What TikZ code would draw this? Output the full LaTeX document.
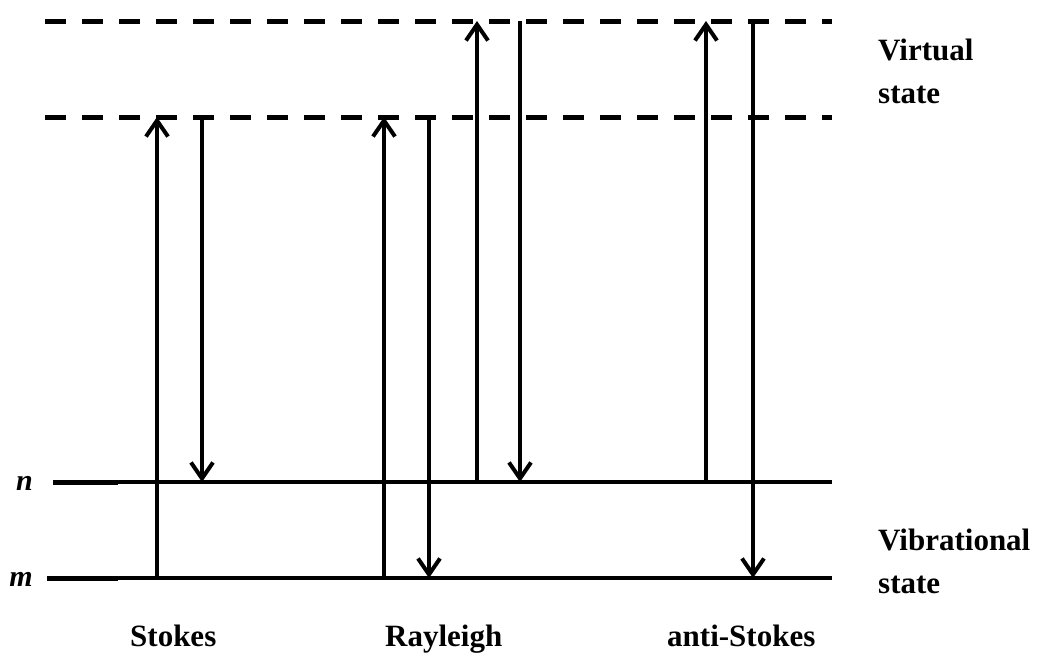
\documentclass[tikz,border=0pt]{standalone}
\usepackage{fontspec}
\setmainfont{Liberation Serif}
\usetikzlibrary{arrows.meta}
\begin{document}
\begin{tikzpicture}[x=1pt,y=-1pt,
  level/.style={line width=4.5pt},
  levelstub/.style={line width=5pt},
  virt/.style={line width=5pt, dash pattern=on 21pt off 16pt},
  trans/.style={line width=4pt, -{Straight Barb[length=16pt,width=22pt,line width=4pt]}},
  lbl/.style={font=\bfseries\fontsize{31}{43}\selectfont, inner sep=0pt, anchor=base west},
  qn/.style={font=\bfseries\itshape\fontsize{30}{36}\selectfont, inner sep=0pt, anchor=base east}]
\useasboundingbox (0,0) rectangle (1037,654);
% levels
\coordinate (vaL) at (45,21);  \coordinate (vaR) at (832,21);
\coordinate (vbL) at (45,117); \coordinate (vbR) at (832,117);
\coordinate (nL) at (53,482);  \coordinate (nS) at (118,482); \coordinate (nR) at (832,482);
\coordinate (mL) at (47,578);  \coordinate (mS) at (118,578); \coordinate (mR) at (832,578);
\draw[virt] (vaL) -- (vaR);
\draw[virt] (vbL) -- (vbR);
\draw[level] (nL) -- (nR);
\draw[level] (mL) -- (mR);
\draw[levelstub] (nL) -- (nS);
\draw[levelstub] (mL) -- (mS);
% transition x positions
\coordinate (s1) at (157,0); \coordinate (s2) at (202,0);
\coordinate (r1) at (384,0); \coordinate (r2) at (429,0);
\coordinate (r3) at (477,0); \coordinate (r4) at (520,0);
\coordinate (a1) at (706,0); \coordinate (a2) at (753,0);
% Stokes
\draw[trans] (s1 |- mL) -- (s1 |- vbL);
\draw[trans] (s2 |- vbL) -- (s2 |- nL);
% Rayleigh
\draw[trans] (r1 |- mL) -- (r1 |- vbL);
\draw[trans] (r2 |- vbL) -- (r2 |- mL);
\draw[trans] (r3 |- nL) -- (r3 |- vaL);
\draw[trans] (r4 |- vaL) -- (r4 |- nL);
% anti-Stokes
\draw[trans] (a1 |- nL) -- (a1 |- vaL);
\draw[trans] (a2 |- vaL) -- (a2 |- mL);
% labels
\node[qn] (nlab) at (33,490) {n};
\node[qn] (mlab) at (33,586) {m};
\node[lbl] (virt1) at (878,60) {Virtual};
\node[lbl] (virt2) at (878,103) {state};
\node[lbl] (vib1) at (878,550) {Vibrational};
\node[lbl] (vib2) at (878,593) {state};
\node[lbl] (stokes) at (130,646) {Stokes};
\node[lbl] (rayleigh) at (385,646) {Rayleigh};
\node[lbl] (anti) at (667,646) {anti-Stokes};
\end{tikzpicture}
\end{document}
